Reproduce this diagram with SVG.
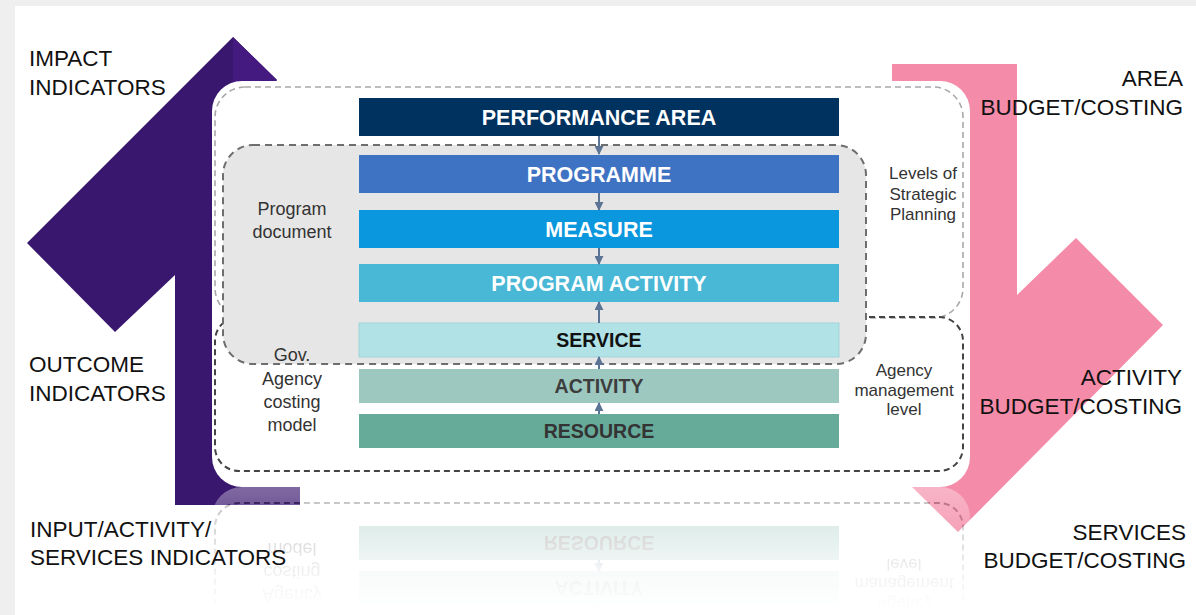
<svg xmlns="http://www.w3.org/2000/svg" xmlns:xlink="http://www.w3.org/1999/xlink" width="1196" height="615" viewBox="0 0 1196 615">
  <style>
    .side { font-family: "Liberation Sans", Arial, sans-serif; font-size: 22.5px; fill: #111; }
    .small { font-family: "Liberation Sans", Arial, sans-serif; font-size: 18px; fill: #333; text-anchor: middle; }
    .small-r { font-family: "Liberation Sans", Arial, sans-serif; font-size: 17px; fill: #333; text-anchor: middle; }
    .bt { font-family: "Liberation Sans", Arial, sans-serif; font-weight: bold; font-size: 21.5px; fill: #fff; text-anchor: middle; }
    .bt2 { font-family: "Liberation Sans", Arial, sans-serif; font-weight: bold; font-size: 19.5px; text-anchor: middle; }
    .conn { stroke: #5b7394; stroke-width: 2; fill: none; marker-end: url(#ah); }
  </style>
  <defs>
    <marker id="ah" viewBox="0 0 10 10" refX="9" refY="5" markerWidth="9" markerHeight="9" markerUnits="userSpaceOnUse" orient="auto">
      <path d="M0,0 L10,5 L0,10 z" fill="#5b7394"/>
    </marker>
    <linearGradient id="fadeGrad" gradientUnits="userSpaceOnUse" x1="0" y1="487" x2="0" y2="612">
      <stop offset="0" stop-color="#fff" stop-opacity="0.36"/>
      <stop offset="0.35" stop-color="#fff" stop-opacity="0.2"/>
      <stop offset="0.7" stop-color="#fff" stop-opacity="0.07"/>
      <stop offset="1" stop-color="#fff" stop-opacity="0"/>
    </linearGradient>
    <mask id="fade" maskUnits="userSpaceOnUse" x="0" y="487" width="1196" height="128">
      <rect x="0" y="487" width="1196" height="128" fill="url(#fadeGrad)"/>
    </mask>
  </defs>

  <!-- page background -->
  <rect x="0" y="0" width="1196" height="615" fill="#efefef"/>
  <rect x="15" y="6" width="1181" height="609" fill="#ffffff"/>

  <!-- big background arrows -->
  <g id="impact-arrow">
    <polygon points="233,37 277,80 260,97 260,487 300,487 300,505 175,505 175,275 115,332 27,243" fill="#3a176f"/>
    <polygon points="233,37 277,80 260,97 233,97" fill="#441a80"/>
  </g>
  <g id="budget-arrow">
    <polygon points="892,64 1017,64 1017,295 1076,238 1163,325 958,532 912,487 930,469 930,100 892,100" fill="#f48ba8"/>
  </g>

  <g id="core">
    <rect id="panel" x="212" y="81" width="758" height="406" rx="30" fill="#ffffff"/>

    <g id="strategic-levels">
      <rect x="215" y="87" width="748" height="231" rx="30" fill="none" stroke="#a8a8a8" stroke-width="1.6" stroke-dasharray="6 4"/>
      <text class="small-r" x="923" y="179">Levels of</text>
      <text class="small-r" x="923" y="200">Strategic</text>
      <text class="small-r" x="923" y="220">Planning</text>
    </g>

    <g id="agency-level">
      <rect x="215" y="317" width="748" height="154" rx="24" fill="none" stroke="#444" stroke-width="2" stroke-dasharray="6 4"/>
      <text class="small-r" x="904" y="376">Agency</text>
      <text class="small-r" x="904" y="396">management</text>
      <text class="small-r" x="904" y="415">level</text>
    </g>

    <g id="program-document">
      <rect x="223" y="145" width="643" height="219" rx="30" fill="#e6e6e6" stroke="#6e6e6e" stroke-width="2" stroke-dasharray="7 5"/>
      <text class="small" x="292" y="215">Program</text>
      <text class="small" x="292" y="238">document</text>
    </g>

    <g id="gov-agency-costing-model">
      <text class="small" x="292" y="361">Gov.</text>
      <text class="small" x="292" y="385">Agency</text>
      <text class="small" x="292" y="408">costing</text>
      <text class="small" x="292" y="431">model</text>
    </g>

    <g id="node-performance-area">
      <rect x="359" y="98" width="480" height="38" fill="#003260"/>
      <text class="bt" x="599" y="124.5">PERFORMANCE AREA</text>
    </g>
    <g id="node-programme">
      <rect x="359" y="155" width="480" height="38" fill="#3e72c2"/>
      <text class="bt" x="599" y="181.5">PROGRAMME</text>
    </g>
    <g id="node-measure">
      <rect x="359" y="210" width="480" height="38" fill="#0b97dd"/>
      <text class="bt" x="599" y="236.5">MEASURE</text>
    </g>
    <g id="node-program-activity">
      <rect x="359" y="264" width="480" height="38" fill="#49b7d6"/>
      <text class="bt" x="599" y="290.5">PROGRAM ACTIVITY</text>
    </g>
    <g id="node-service">
      <rect x="359" y="323" width="480" height="34" fill="#b0e2e6" stroke="#9fd4da" stroke-width="1"/>
      <text class="bt2" x="599" y="347" fill="#111">SERVICE</text>
    </g>
    <g id="node-activity">
      <rect x="359" y="369" width="480" height="34" fill="#9cc8c0"/>
      <text class="bt2" x="599" y="393" fill="#3d3d3d">ACTIVITY</text>
    </g>
    <g id="node-resource">
      <rect x="359" y="414" width="480" height="34" fill="#66aa9a"/>
      <text class="bt2" x="599" y="438" fill="#333">RESOURCE</text>
    </g>

    <g id="connectors">
      <line class="conn" x1="599" y1="136" x2="599" y2="154"/>
      <line class="conn" x1="599" y1="193" x2="599" y2="210"/>
      <line class="conn" x1="599" y1="248" x2="599" y2="264"/>
      <line class="conn" x1="599" y1="323" x2="599" y2="302"/>
      <line class="conn" x1="599" y1="369" x2="599" y2="357"/>
      <line class="conn" x1="599" y1="414" x2="599" y2="403"/>
    </g>
  </g>

  <!-- mirrored reflection below the panel -->
  <g id="reflection" mask="url(#fade)">
    <g transform="matrix(1 0 0 -1 0 974)">
      <use href="#core" xlink:href="#core"/>
    </g>
  </g>

  <!-- side labels -->
  <g id="impact-indicators">
    <text class="side" x="29" y="66">IMPACT</text>
    <text class="side" x="29" y="95">INDICATORS</text>
  </g>
  <g id="outcome-indicators">
    <text class="side" x="29" y="372">OUTCOME</text>
    <text class="side" x="29" y="401">INDICATORS</text>
  </g>
  <g id="input-indicators">
    <text class="side" x="30" y="537">INPUT/ACTIVITY/</text>
    <text class="side" x="30" y="565">SERVICES INDICATORS</text>
  </g>
  <g id="area-budget" text-anchor="end">
    <text class="side" x="1183" y="86">AREA</text>
    <text class="side" x="1183" y="115">BUDGET/COSTING</text>
  </g>
  <g id="activity-budget" text-anchor="end">
    <text class="side" x="1182" y="385">ACTIVITY</text>
    <text class="side" x="1182" y="414">BUDGET/COSTING</text>
  </g>
  <g id="services-budget" text-anchor="end">
    <text class="side" x="1186" y="540">SERVICES</text>
    <text class="side" x="1186" y="568">BUDGET/COSTING</text>
  </g>
</svg>
